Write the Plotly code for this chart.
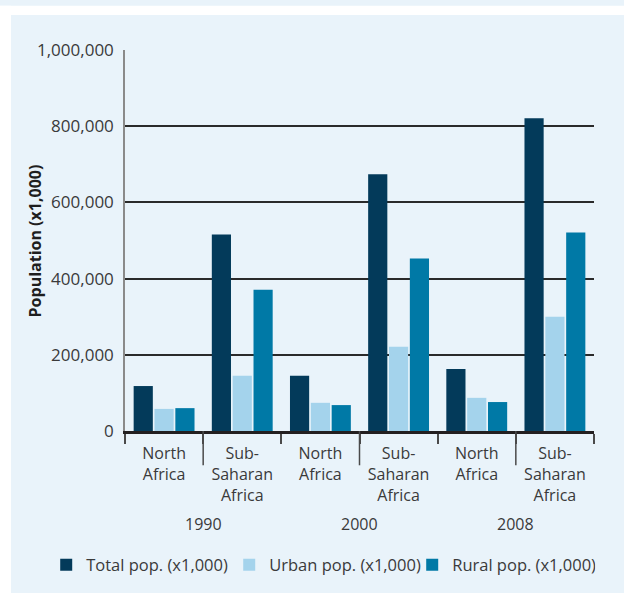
import plotly.graph_objects as go

# data (population x1,000)
regions = ["North<br>Africa", "Sub-<br>Saharan<br>Africa"] * 3
years = ["1990", "2000", "2008"]
slots = ["NA1990", "SSA1990", "NA2000", "SSA2000", "NA2008", "SSA2008"]
total_pop = [118000, 516000, 145000, 674000, 163000, 821000]
urban_pop = [58000, 145000, 74000, 221000, 87000, 300000]
rural_pop = [60000, 371000, 68000, 453000, 76000, 521000]

series = [
    ("Total pop. (x1,000)", total_pop, "#033a5a"),
    ("Urban pop. (x1,000)", urban_pop, "#a4d3ec"),
    ("Rural pop. (x1,000)", rural_pop, "#0079a6"),
]

BG = "#e9f3fa"
TXT = "#3a3a3a"
FONT = "Open Sans"

fig = go.Figure()
for name, vals, col in series:
    fig.add_trace(go.Bar(
        name=name,
        x=slots,
        y=vals,
        marker=dict(color=col, line=dict(width=0)),
        hoverinfo="y"
    ))

# white page strips around the panel
fig.add_shape(type="rect", xref="paper", yref="paper",
              x0=-0.3, x1=1.1, y0=1.092, y1=1.116,
              fillcolor="white", line_width=0, layer="below")
fig.add_shape(type="rect", xref="paper", yref="paper",
              x0=-0.3, x1=-0.243, y0=-0.45, y1=1.116,
              fillcolor="white", line_width=0, layer="below")

# long ticks between the two regions of one year + year labels
for i, yr in enumerate(years):
    xpos = 2 * i + 0.5
    fig.add_shape(type="line", xref="x", yref="paper",
                  x0=xpos, x1=xpos, y0=0, y1=-0.09,
                  line=dict(color="#4a4a4a", width=1.5))
    fig.add_annotation(x=xpos, xref="x", y=-0.245, yref="paper",
                       text=yr, showarrow=False, yanchor="middle",
                       font=dict(family=FONT, size=16, color=TXT))

fig.add_annotation(x=-0.192, xref="paper", y=0.5, yref="paper",
                   text="<b>Population (x1,000)</b>", textangle=-90,
                   showarrow=False, xanchor="center", yanchor="middle",
                   font=dict(family=FONT, size=16, color="#1e1e1e"))

fig.update_layout(
    width=624, height=593,
    paper_bgcolor=BG, plot_bgcolor=BG,
    margin=dict(l=125, r=30, t=50, b=162, autoexpand=False),
    barmode="group", bargap=0.2, bargroupgap=0.08,
    font=dict(family=FONT, size=16, color=TXT),
    showlegend=True,
    legend=dict(orientation="h", x=-0.168, xanchor="left",
                y=-0.352, yanchor="middle", bgcolor="rgba(0,0,0,0)",
                font=dict(family=FONT, size=16.5, color=TXT),
                entrywidth=138, traceorder="normal"),
    xaxis=dict(
        type="category",
        tickvals=slots, ticktext=regions,
        tickson="boundaries", ticks="outside", ticklen=10,
        tickcolor="#4a4a4a", tickwidth=1.5, ticklabelstandoff=6,
        showline=True, linecolor="#231f20", linewidth=2.5,
        showgrid=False, zeroline=False,
        tickfont=dict(family=FONT, size=16, color=TXT),
    ),
    yaxis=dict(
        range=[0, 1000000], tickvals=[0, 200000, 400000, 600000, 800000, 1000000],
        tickformat=",", ticks="", ticklabelstandoff=6,
        showgrid=True, gridcolor="#2a2a2a", gridwidth=1.5,
        showline=True, linecolor="#8a8a8a", linewidth=1.5,
        zeroline=False,
        tickfont=dict(family=FONT, size=17, color=TXT),
    ),
)

fig.write_html("out.html", config={"displayModeBar": False},
               post_script="document.body.style.margin='0px';")
